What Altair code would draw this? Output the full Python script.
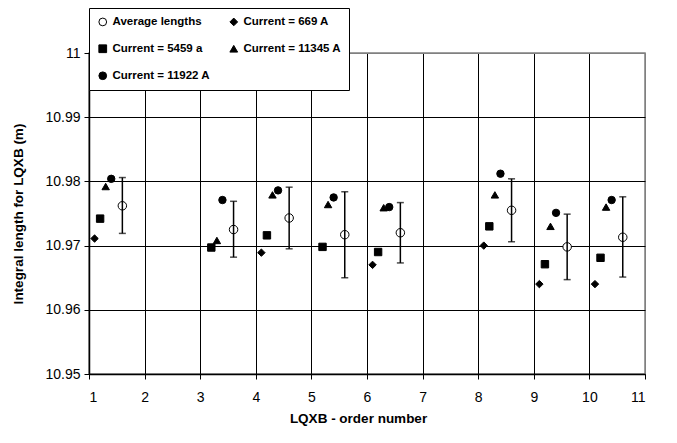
import altair as alt
import pandas as pd

# ---- data ----
groups = [1, 3, 4, 5, 6, 8, 9, 10]
series_names = ["Average lengths", "Current = 669 A", "Current = 5459 a",
                "Current = 11345 A", "Current = 11922 A"]
series_shapes = ["circle", "diamond", "square", "triangle-up", "circle"]
series_fills = ["white", "black", "black", "black", "black"]
series_strokes = ["black", "black", "black", "black", "black"]
# x offset of each series inside a group (XY-scatter x values = group + offset)
series_offsets = [0.6, 0.1, 0.2, 0.3, 0.4]

avg_len = [10.9762, 10.9725, 10.9743, 10.9717, 10.9720, 10.9755, 10.9698, 10.9713]
err_hi = [10.9806, 10.9769, 10.9791, 10.9784, 10.9767, 10.9804, 10.9749, 10.9776]
err_lo = [10.9719, 10.9682, 10.9695, 10.9650, 10.9673, 10.9706, 10.9647, 10.9651]
cur_669 = [10.9711, None, 10.9689, None, 10.9670, 10.9700, 10.9640, 10.9640]
cur_5459 = [10.9742, 10.9697, 10.9716, 10.9698, 10.9690, 10.9730, 10.9671, 10.9681]
cur_11345 = [10.9792, 10.9708, 10.9779, 10.9764, 10.9759, 10.9779, 10.9730, 10.9760]
cur_11922 = [10.9804, 10.9771, 10.9786, 10.9775, 10.9760, 10.9812, 10.9751, 10.9771]

x_ticks = list(range(1, 12))
y_ticks = [10.95, 10.96, 10.97, 10.98, 10.99, 11.0]

# ---- tables ----
rows = []
for name, off, vals in zip(series_names[1:], series_offsets[1:],
                           [cur_669, cur_5459, cur_11345, cur_11922]):
    for g, v in zip(groups, vals):
        if v is not None:
            rows.append({"x": g + off, "y": v, "series": name})
cur_df = pd.DataFrame(rows)

avg_df = pd.DataFrame({
    "x": [g + series_offsets[0] for g in groups],
    "y": avg_len,
    "hi": err_hi,
    "lo": err_lo,
    "series": series_names[0],
})

FONT = "Liberation Sans"

x_enc = alt.X(
    "x:Q",
    scale=alt.Scale(domain=[1, 11], nice=False, zero=False),
    axis=alt.Axis(
        values=x_ticks, format="d", title="LQXB - order number",
        grid=True,
        gridColor=alt.condition("datum.value >= 11", alt.value("#808080"), alt.value("black")),
        gridWidth=1, tickSize=5, labelPadding=11, titlePadding=7, titleX=269,
    ),
)
y_scale = alt.Scale(domain=[10.95, 11.0], nice=False, zero=False)
y_axis = alt.Axis(
    values=y_ticks, format="~g", title="Integral length for LQXB (m)",
    grid=True,
    gridColor=alt.condition("datum.value >= 10.9999", alt.value("#808080"), alt.value("black")),
    gridWidth=1, tickSize=5, labelPadding=4, titlePadding=19,
)

legend = alt.Legend(
    title=None, orient="none", legendX=0, legendY=-45, columns=2,
    direction="horizontal",
    fillColor="white", strokeColor="black", padding=8,
    labelFont=FONT, labelFontSize=11.5, labelFontWeight="bold", labelColor="black",
    labelLimit=300, labelOffset=4, columnPadding=17, rowPadding=14,
    symbolSize=60, symbolStrokeColor="black", symbolStrokeWidth=1,
)
shape_enc = alt.Shape("series:N",
                      scale=alt.Scale(domain=series_names, range=series_shapes),
                      legend=legend)
fill_enc = alt.Fill("series:N",
                    scale=alt.Scale(domain=series_names, range=series_fills),
                    legend=legend)
stroke_enc = alt.Stroke("series:N",
                        scale=alt.Scale(domain=series_names, range=series_strokes),
                        legend=legend)

avg_pts = alt.Chart(avg_df).mark_point(size=72, strokeWidth=1, opacity=1).encode(
    x=x_enc, y=alt.Y("y:Q", scale=y_scale, axis=y_axis),
    shape=shape_enc, fill=fill_enc, stroke=stroke_enc)

bars = alt.Chart(avg_df).mark_rule(color="black", strokeWidth=1.5).encode(
    x=x_enc, y=alt.Y("lo:Q", scale=y_scale, axis=y_axis), y2="hi:Q")

cap_hi = alt.Chart(avg_df).mark_tick(color="black", orient="horizontal", size=7, thickness=1.5).encode(
    x=x_enc, y=alt.Y("hi:Q", scale=y_scale, axis=y_axis))
cap_lo = alt.Chart(avg_df).mark_tick(color="black", orient="horizontal", size=7, thickness=1.5).encode(
    x=x_enc, y=alt.Y("lo:Q", scale=y_scale, axis=y_axis))

cur_pts = alt.Chart(cur_df).mark_point(size=55, strokeWidth=1, opacity=1).encode(
    x=x_enc, y=alt.Y("y:Q", scale=y_scale, axis=y_axis),
    shape=shape_enc, fill=fill_enc, stroke=stroke_enc)

chart = alt.layer(avg_pts, bars, cap_hi, cap_lo, cur_pts).properties(
    width=556, height=321,
    autosize=alt.AutoSizeParams(type="none"),
    padding={"left": 81, "top": 45, "right": 20, "bottom": 60},
    background="white",
).configure(font=FONT).configure_view(
    stroke="#808080", strokeWidth=1.5,
).configure_axis(
    labelFont=FONT, labelFontSize=14, labelColor="black",
    titleFont=FONT, titleFontSize=13.5, titleFontWeight="bold", titleColor="black",
    domainColor="black", domainWidth=1.5, tickColor="black", tickWidth=1,
)

chart.save("out.html", embed_options={"renderer": "svg", "actions": False})
